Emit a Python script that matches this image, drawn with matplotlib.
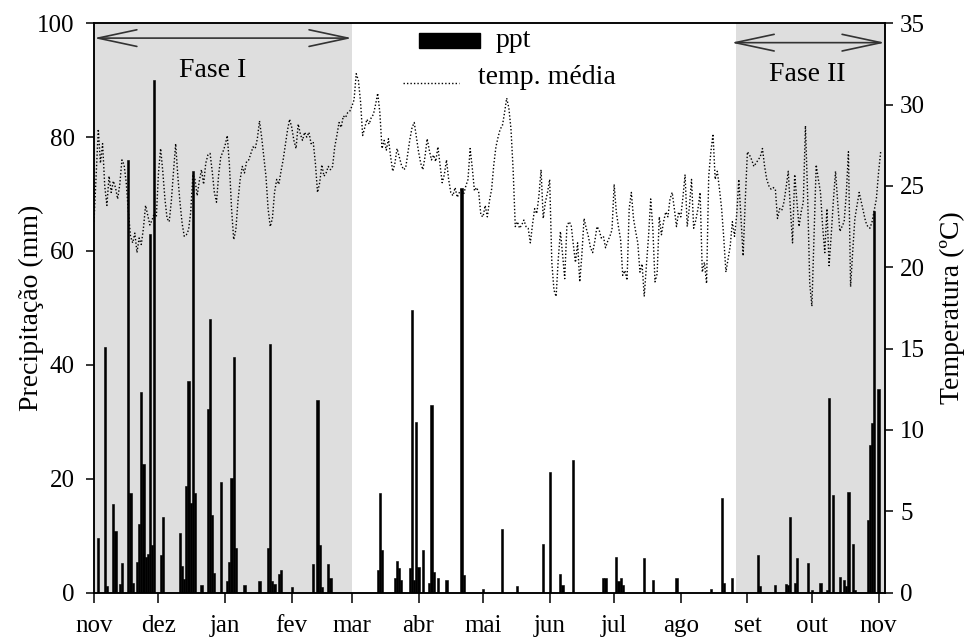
import numpy as np
import matplotlib
matplotlib.use("Agg")
import matplotlib.pyplot as plt
from matplotlib.patches import FancyArrowPatch, ArrowStyle, Rectangle
from matplotlib.lines import Line2D

plt.rcParams['font.family'] = ['Liberation Serif', 'DejaVu Serif']

# months on the x axis (days counted from 1 nov)
months = ["nov", "dez", "jan", "fev", "mar", "abr", "mai", "jun",
          "jul", "ago", "set", "out", "nov"]
month_days = [30, 31, 31, 28, 31, 30, 31, 30, 31, 31, 30, 31]

# daily mean temperature (C)
temp_media = [
    22.8, 25.6, 28.5, 26.4, 27.6, 25.0, 23.8, 25.6, 24.6, 25.3,
    24.9, 24.2, 25.1, 26.6, 26.3, 25.2, 23.4, 21.9, 21.5, 22.1,
    20.9, 21.8, 21.4, 22.4, 23.8, 23.2, 22.6, 22.9, 23.3, 23.1,
    25.8, 27.3, 25.9, 24.2, 23.0, 22.8, 24.1, 25.9, 27.6, 25.6,
    24.0, 22.7, 21.9, 22.0, 22.3, 23.4, 25.7, 25.4, 24.4, 25.3,
    26.0, 25.1, 26.4, 26.9, 27.0, 25.9, 24.6, 24.0, 25.7, 26.8,
    27.1, 27.5, 28.1, 26.3, 23.6, 21.7, 22.3, 24.1, 25.4, 26.2,
    25.8, 26.5, 26.6, 27.0, 27.4, 27.3, 27.9, 29.0, 28.0, 26.8,
    25.6, 23.6, 22.5, 23.0, 24.6, 25.4, 25.1, 25.9, 26.6, 27.5,
    28.4, 29.1, 28.6, 27.8, 27.3, 28.8, 28.2, 27.8, 28.3, 28.0,
    28.3, 27.6, 27.7, 26.4, 24.6, 25.2, 26.3, 25.6, 25.8, 26.2,
    26.0, 26.2, 27.4, 28.1, 28.9, 28.6, 29.3, 29.2, 29.5, 29.6,
    29.9, 30.3, 31.9, 31.5, 30.2, 28.1, 28.6, 29.1, 28.8, 29.2,
    29.4, 30.0, 30.7, 29.5, 27.3, 27.8, 27.2, 27.9, 26.8, 25.9,
    26.4, 27.3, 26.8, 26.3, 26.0, 26.1, 27.0, 27.9, 28.6, 28.9,
    28.0, 27.1, 26.4, 26.0, 26.8, 27.9, 27.2, 26.6, 26.9, 26.5,
    27.4, 26.3, 25.2, 25.7, 26.6, 25.4, 24.6, 24.4, 24.9, 24.3,
    24.6, 24.8, 24.5, 25.0, 25.4, 27.3, 26.1, 24.7, 24.9, 24.6,
    23.2, 23.1, 23.8, 23.1, 24.1, 24.8, 26.3, 27.4, 28.0, 28.5,
    28.7, 29.5, 30.4, 29.8, 28.5, 26.0, 22.5, 22.8, 22.4, 22.6,
    22.9, 22.5, 22.4, 21.5, 22.6, 23.6, 23.3, 24.4, 26.0, 23.0,
    24.0, 24.6, 25.4, 20.3, 18.6, 18.2, 20.5, 22.2, 20.8, 19.3,
    22.5, 22.8, 22.6, 21.4, 20.3, 21.5, 19.1, 20.8, 23.0, 22.4,
    21.9, 21.2, 20.9, 21.6, 22.5, 22.3, 21.8, 21.9, 21.2, 21.6,
    21.9, 22.3, 25.1, 23.4, 22.5, 21.7, 19.5, 19.8, 19.2, 23.6,
    24.6, 23.0, 22.2, 21.5, 19.7, 20.2, 18.2, 20.1, 21.9, 24.2,
    22.4, 19.1, 19.6, 23.1, 22.0, 22.8, 23.4, 23.1, 24.2, 24.6,
    23.6, 22.5, 23.4, 23.1, 24.3, 25.7, 22.5, 23.7, 25.4, 22.4,
    22.9, 23.6, 24.6, 19.7, 20.3, 19.0, 25.6, 27.1, 28.2, 25.4,
    25.9, 24.8, 23.6, 21.8, 19.7, 20.5, 21.3, 22.8, 21.9, 23.2,
    25.4, 23.0, 20.7, 24.1, 27.1, 26.9, 26.6, 26.2, 26.4, 26.6,
    26.8, 27.3, 26.2, 25.4, 25.0, 24.8, 24.9, 24.8, 23.0, 23.6,
    23.5, 24.0, 24.9, 25.9, 23.6, 21.5, 25.7, 24.1, 22.5, 23.4,
    24.0, 28.7, 24.5, 19.0, 17.6, 22.0, 26.3, 25.4, 24.6, 22.5,
    20.9, 23.6, 20.1, 22.0, 24.1, 25.9, 24.0, 22.2, 22.5, 22.8,
    24.5, 27.1, 18.8, 21.0, 23.0, 23.8, 24.6, 24.0, 23.4, 22.8,
    22.5, 22.4, 22.8, 23.5, 24.2, 25.8, 27.1,
]

# rainy days (day number) and rain (mm)
ppt_day = [2, 5, 6, 9, 10, 12, 13, 16, 17, 18, 20, 21, 22, 23, 24, 25, 26,
           27, 28, 31, 32, 40, 41, 42, 43, 44, 45, 46, 47, 50, 53, 54, 55, 56,
           59, 62, 63, 64, 65, 66, 70, 77, 81, 82, 83, 84, 86, 87, 92, 102,
           104, 105, 106, 109, 110, 132, 133, 134, 140, 141, 142, 143, 147,
           148, 149, 150, 151, 153, 156, 157, 158, 160, 164, 171, 172, 181,
           190, 197, 209, 212, 217, 218, 223, 237, 238, 243, 244, 245, 246,
           256, 260, 271, 287, 292, 293, 297, 309, 310, 317, 322, 323, 324,
           326, 327, 332, 334, 338, 341, 342, 344, 347, 349, 350, 351, 353,
           354, 360, 361, 362, 363, 365]
ppt_mm = [9.6, 43.1, 1.2, 15.6, 10.8, 1.5, 5.2, 76.0, 17.5, 1.6, 5.3, 12.0,
          35.2, 22.6, 6.3, 6.7, 63.0, 8.3, 90.0, 6.6, 13.3, 10.5, 4.6, 2.3,
          18.7, 37.1, 15.8, 74.0, 17.5, 1.3, 32.2, 48.1, 13.6, 3.5, 19.5,
          2.0, 5.3, 20.1, 41.4, 7.8, 1.3, 2.0, 7.8, 43.7, 2.1, 1.5, 3.2, 3.9,
          0.9, 5.0, 33.8, 8.3, 0.9, 5.0, 2.5, 4.0, 17.5, 7.5, 2.6, 5.6, 4.3,
          2.2, 4.3, 49.6, 2.2, 29.9, 4.5, 7.5, 1.7, 32.9, 3.6, 2.6, 2.2, 71.0,
          3.0, 0.7, 11.2, 1.2, 8.6, 21.2, 3.3, 1.3, 23.2, 2.6, 2.6, 6.2, 2.0,
          2.6, 1.3, 6.0, 2.2, 2.6, 0.7, 16.6, 1.6, 2.6, 6.6, 1.2, 1.3, 1.5,
          1.3, 13.3, 1.6, 6.0, 5.2, 0.4, 1.7, 0.5, 34.2, 17.1, 2.7, 2.2, 1.1,
          17.7, 8.6, 0.5, 12.7, 26.0, 29.7, 67.0, 35.8]

month_start = np.concatenate([[0], np.cumsum(month_days)])
days = np.arange(len(temp_media))

fig = plt.figure(figsize=(9.71, 6.42), dpi=100)
ax = fig.add_axes([0.0968, 0.0771, 0.8146, 0.8866])
ax2 = ax.twinx()

# shaded phases
ax.axvspan(0, 120, color='#dedede', lw=0, zorder=0)
ax.axvspan(298.5, 368, color='#dedede', lw=0, zorder=0)

ax.bar(ppt_day, ppt_mm, width=1.0, color='black', edgecolor='black',
       linewidth=0.4, zorder=2)
ax2.plot(days, temp_media, color='black', lw=1.0, linestyle=(0, (1, 1.5)))

ax.set_xlim(0, 368)
ax.set_ylim(0, 100)
ax2.set_ylim(0, 35)
ax.set_xticks(month_start)
ax.set_xticklabels(months)
ax.set_yticks(np.arange(0, 101, 20))
ax2.set_yticks(np.arange(0, 36, 5))

ax.tick_params(axis='x', direction='out', length=7, width=1.1, pad=9,
               labelsize=18)
ax.tick_params(axis='y', direction='out', length=6, width=1.1, pad=8,
               labelsize=18)
ax2.tick_params(axis='y', direction='out', length=6, width=1.1, pad=5,
                labelsize=18)
for a in (ax, ax2):
    for s in a.spines.values():
        s.set_linewidth(1.1)

ax.set_ylabel("Precipitação (mm)", fontsize=20)
ax2.set_ylabel("Temperatura (ºC)", fontsize=20)
ax.yaxis.set_label_coords(-0.063, 0.5)
ax2.yaxis.set_label_coords(1.0695, 0.5)

# phase arrows
style = ArrowStyle("<->", head_length=2.8, head_width=0.6)
ax.add_patch(FancyArrowPatch((0, 97.4), (120, 97.4), arrowstyle=style,
                             mutation_scale=10, lw=1.2, color='#333333',
                             shrinkA=0, shrinkB=0, zorder=4))
ax.add_patch(FancyArrowPatch((296.5, 96.6), (368, 96.6), arrowstyle=style,
                             mutation_scale=10, lw=1.2, color='#333333',
                             shrinkA=0, shrinkB=0, zorder=4, clip_on=False))
ax.text(55, 90.5, "Fase I", fontsize=20, ha='center', va='baseline')
ax.text(332, 89.8, "Fase II", fontsize=20, ha='center', va='baseline')

# legend drawn by hand, like the original
ax.add_patch(Rectangle((0.411, 0.957), 0.077, 0.026, transform=ax.transAxes,
                       color='black', zorder=5))
ax.text(0.508, 0.958, "ppt", transform=ax.transAxes, fontsize=20,
        va='baseline')
ax.add_line(Line2D([0.391, 0.461], [0.895, 0.895], transform=ax.transAxes,
                   color='black', lw=1.0, linestyle=(0, (1, 1.5))))
ax.text(0.485, 0.893, "temp. média", transform=ax.transAxes, fontsize=20,
        va='baseline')

plt.savefig("out.png", dpi=100)
